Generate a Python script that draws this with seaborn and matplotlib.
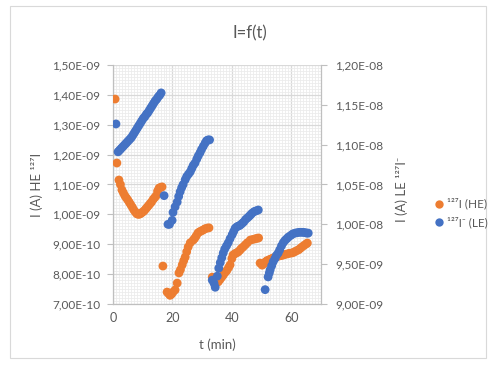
import numpy as np
import pandas as pd
import matplotlib
matplotlib.use("Agg")
import matplotlib.pyplot as plt
import seaborn as sns
from matplotlib.ticker import MultipleLocator, FuncFormatter
from matplotlib.lines import Line2D
from matplotlib.patches import Rectangle

# ---- data (current in units of 1e-9 A) ----
t_he = [0.7, 1.3, 2.0, 2.5, 3.0, 3.5, 4.0, 4.5, 5.0, 5.5, 6.0, 6.5, 7.0, 7.5, 8.0, 8.5,
        9.0, 9.5, 10.0, 10.5, 11.0, 11.5, 12.0, 12.5, 13.0, 13.5, 14.0, 14.5, 15.0, 15.5,
        16.0, 16.5,
        16.8, 18.2, 18.7, 19.2, 19.7, 20.2, 20.9, 21.6, 22.2, 22.7, 23.3, 23.8, 24.3, 24.8,
        25.3, 26.0, 27.0, 27.5, 28.0, 28.6, 29.2, 29.8, 30.4, 31.0, 31.7, 32.3,
        33.4, 34.2, 35.4, 36.0, 36.6, 37.1, 37.7, 38.3, 38.9, 39.4, 40.0, 40.4, 41.0, 41.5,
        42.1, 42.7, 43.2, 43.8, 44.5, 45.2, 46.2, 47.0, 47.8, 48.5, 49.0,
        49.5, 50.2, 50.8, 51.2, 51.8, 52.5, 53.2, 53.9, 54.6, 55.3, 56.0, 56.6, 57.3, 58.0,
        58.8, 59.5, 60.3, 61.0, 61.7, 62.4, 63.0, 63.6, 64.3, 65.0, 65.4]
i_he = [1.386, 1.172, 1.115, 1.100, 1.082, 1.072, 1.062, 1.055, 1.048, 1.040, 1.032, 1.024,
        1.015, 1.008, 1.002, 1.000, 1.001, 1.004, 1.008, 1.012, 1.018, 1.024, 1.030, 1.036,
        1.042, 1.050, 1.056, 1.062, 1.078, 1.088, 1.090, 1.092,
        0.827, 0.740, 0.735, 0.729, 0.733, 0.740, 0.747, 0.770, 0.804, 0.815, 0.831, 0.845,
        0.857, 0.875, 0.891, 0.905, 0.914, 0.920, 0.928, 0.938, 0.942, 0.945, 0.948, 0.952,
        0.954, 0.955,
        0.790, 0.782, 0.774, 0.782, 0.790, 0.797, 0.805, 0.812, 0.822, 0.831, 0.852, 0.864,
        0.868, 0.871, 0.874, 0.880, 0.886, 0.891, 0.898, 0.905, 0.914, 0.916, 0.918, 0.920,
        0.921,
        0.837, 0.830, 0.835, 0.840, 0.845, 0.848, 0.851, 0.854, 0.857, 0.859, 0.861, 0.862,
        0.864, 0.866, 0.868, 0.870, 0.871, 0.874, 0.878, 0.881, 0.886, 0.891, 0.896, 0.901,
        0.904]

t_le = [1.0, 1.7, 2.2, 2.7, 3.2, 3.7, 4.2, 4.7, 5.2, 5.7, 6.2, 6.7, 7.2, 7.7, 8.2, 8.7,
        9.2, 9.7, 10.2, 10.7, 11.2, 11.7, 12.2, 12.7, 13.2, 13.7, 14.2, 14.7, 15.2, 15.7, 16.2,
        17.2,
        18.5, 19.0, 19.9, 20.2, 20.9, 21.6, 22.1, 22.6, 23.1, 23.6, 24.3, 24.8, 25.4, 26.0,
        26.5, 27.0, 27.6, 28.2, 28.7, 29.3, 29.8, 30.4, 31.0, 31.5, 32.0, 32.5,
        33.4, 34.0, 34.4, 35.1, 35.6, 36.1, 36.6, 37.1, 37.6, 38.2, 38.8, 39.4, 40.1, 40.6,
        41.1, 41.7, 42.3, 42.8, 43.4, 44.0, 44.6, 45.2, 45.8, 46.3, 46.8, 47.5, 48.2, 48.9,
        51.2, 52.2, 52.6, 52.9, 53.4, 53.9, 54.5, 55.0, 55.6, 56.1, 56.7, 57.3, 57.9, 58.5,
        59.0, 59.8, 60.5, 61.3, 62.0, 62.7, 63.4, 64.0, 64.7, 65.2, 65.7]
i_le = [11.26, 10.91, 10.93, 10.95, 10.97, 10.99, 11.01, 11.03, 11.05, 11.07, 11.09, 11.12,
        11.15, 11.18, 11.21, 11.24, 11.27, 11.30, 11.33, 11.35, 11.38, 11.40, 11.43, 11.46,
        11.49, 11.52, 11.55, 11.57, 11.60, 11.62, 11.65,
        10.36,
        10.00, 10.00, 10.05, 10.15, 10.22, 10.28, 10.35, 10.41, 10.46, 10.50, 10.56, 10.60,
        10.63, 10.66, 10.70, 10.74, 10.77, 10.82, 10.86, 10.90, 10.94, 10.98, 11.02, 11.05,
        11.06, 11.06,
        9.30, 9.26, 9.21, 9.35, 9.45, 9.52, 9.58, 9.64, 9.69, 9.73, 9.77, 9.82, 9.87, 9.91,
        9.95, 9.97, 9.98, 9.99, 10.01, 10.03, 10.06, 10.08, 10.10, 10.12, 10.14, 10.16,
        10.17, 10.18,
        9.18, 9.34, 9.39, 9.43, 9.48, 9.53, 9.57, 9.61, 9.64, 9.68, 9.73, 9.77, 9.80, 9.82,
        9.84, 9.86, 9.88, 9.89, 9.895, 9.90, 9.90, 9.90, 9.895, 9.89, 9.89]

label_he = "\u00b9\u00b2\u2077I (HE)"
label_le = "\u00b9\u00b2\u2077I\u207b (LE)"

df_he = pd.DataFrame({"t": t_he, "I": np.array(i_he) * 1e-9})
df_le = pd.DataFrame({"t": t_le, "I": np.array(i_le) * 1e-9})

ORANGE = "#ED7D31"
BLUE = "#4472C4"
GREY_TXT = "#595959"
GRID_MAJ = "#D9D9D9"
GRID_MIN = "#ECECEC"

sns.set_theme(style="white")
plt.rcParams["font.family"] = ["Lato", "DejaVu Sans"]

fig = plt.figure(figsize=(4.95, 3.67), dpi=100)
W, H = 495, 367
ax = fig.add_axes([113 / W, 1 - 304 / H, (321 - 113) / W, (304 - 65) / H])
ax2 = ax.twinx()

sns.scatterplot(data=df_he, x="t", y="I", ax=ax, color=ORANGE, s=40,
                edgecolor="none", linewidth=0, zorder=3, legend=False)
sns.scatterplot(data=df_le, x="t", y="I", ax=ax2, color=BLUE, s=40,
                edgecolor="none", linewidth=0, zorder=3, legend=False)

ax.set_xlim(0, 70)
ax.set_ylim(0.7e-9, 1.5e-9)
ax2.set_ylim(9.0e-9, 12.0e-9)

ax.xaxis.set_major_locator(MultipleLocator(20))
ax.xaxis.set_minor_locator(MultipleLocator(1))
ax.yaxis.set_major_locator(MultipleLocator(0.1e-9))
ax.yaxis.set_minor_locator(MultipleLocator(0.01e-9))
ax2.yaxis.set_major_locator(MultipleLocator(0.5e-9))
ax2.yaxis.set_minor_locator(MultipleLocator(0.5e-9))

fmt = FuncFormatter(lambda v, p: f"{v:.2E}".replace(".", ","))
ax.yaxis.set_major_formatter(fmt)
ax2.yaxis.set_major_formatter(fmt)

ax.set_axisbelow(True)
ax.grid(which="major", color=GRID_MAJ, linewidth=0.9)
ax.grid(which="minor", color=GRID_MIN, linewidth=0.6)
ax2.grid(False)

for a in (ax, ax2):
    a.spines["top"].set_visible(False)
    for side in ("left", "right", "bottom"):
        a.spines[side].set_color("#BFBFBF")
        a.spines[side].set_linewidth(0.9)
ax.spines["right"].set_visible(False)
ax2.spines["left"].set_visible(False)
ax2.spines["bottom"].set_visible(False)

ax.tick_params(axis="y", which="major", left=True, length=4, width=0.8, color="#BFBFBF",
               labelsize=8.5, labelcolor=GREY_TXT, pad=5)
ax.tick_params(axis="y", which="minor", left=False)
ax.tick_params(axis="x", which="both", bottom=False, length=0, labelsize=9,
               labelcolor=GREY_TXT, pad=6)
ax2.tick_params(axis="y", which="major", right=True, length=4, width=0.8, color="#BFBFBF",
                labelsize=8.5, labelcolor=GREY_TXT, pad=6)
ax2.tick_params(axis="y", which="minor", right=False)

ax.set_xlabel("t (min)", fontsize=9.5, color=GREY_TXT)
ax.set_ylabel("I (A) HE \u00b9\u00b2\u2077I", fontsize=9.5, color=GREY_TXT)
ax2.set_ylabel("I (A) LE \u00b9\u00b2\u2077I\u207b", fontsize=9.5, color=GREY_TXT)
ax.xaxis.set_label_coords(0.5, -0.146)
ax.yaxis.set_label_coords(-0.337, 0.5)
ax2.yaxis.set_label_coords(1.356, 0.48)

fig.text(250 / W, 1 - 33 / H, "I=f(t)", ha="center", va="center", fontsize=12,
         color=GREY_TXT)

handles = [Line2D([], [], marker="o", linestyle="none", color=ORANGE, markersize=6,
                  markeredgewidth=0),
           Line2D([], [], marker="o", linestyle="none", color=BLUE, markersize=6,
                  markeredgewidth=0)]
leg = fig.legend(handles, [label_he, label_le], loc="center left",
                 bbox_to_anchor=(426 / W, 1 - 213 / H), frameon=False, fontsize=8.5,
                 handletextpad=0.1, labelspacing=0.55, handlelength=1.2, borderpad=0)
for txt in leg.get_texts():
    txt.set_color(GREY_TXT)

fig.patches.append(Rectangle((10 / W, 1 - 358 / H), 476 / W, 352 / H, transform=fig.transFigure,
                             fill=False, edgecolor="#D9D9D9", linewidth=0.8))

fig.savefig("out.png", dpi=100)
